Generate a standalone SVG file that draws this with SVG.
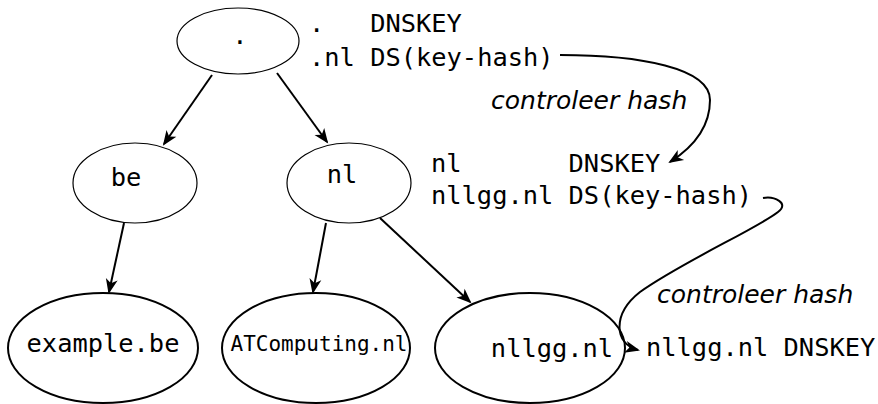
<svg xmlns="http://www.w3.org/2000/svg" width="878" height="404" viewBox="0 0 878 404">
<defs>
<style>
.n{fill:none;stroke:#000}
.thin{stroke-width:1.2}
.thick{stroke-width:2}
.m{font-family:"DejaVu Sans Mono","Liberation Mono",monospace;font-size:25.4px;fill:#000}
.i{font-family:"DejaVu Sans","Liberation Sans",sans-serif;font-style:italic;font-size:25px;fill:#000}
</style>
<marker id="ah" markerUnits="userSpaceOnUse" markerWidth="20" markerHeight="14" viewBox="-14 -7 17 14" refX="0" refY="0" orient="auto">
<path d="M2,0 L-13,-6 L-9,0 L-13,6 Z" fill="#000"/>
</marker>
</defs>
<rect width="878" height="404" fill="#fff"/>
<g id="root">
<ellipse class="n thin" cx="238" cy="41" rx="61" ry="33"/>
<text class="m" x="240" y="44" text-anchor="middle">.</text>
</g>
<g id="be">
<ellipse class="n thin" cx="135" cy="183" rx="62" ry="40"/>
<text class="m" x="126" y="186" text-anchor="middle">be</text>
</g>
<g id="nl">
<ellipse class="n thin" cx="349" cy="183" rx="62" ry="40"/>
<text class="m" x="342" y="183" text-anchor="middle">nl</text>
</g>
<g id="examplebe">
<ellipse class="n thick" cx="103" cy="348" rx="95" ry="55"/>
<text class="m" x="103" y="352" text-anchor="middle">example.be</text>
</g>
<g id="atcomputing">
<ellipse class="n thick" cx="316" cy="348" rx="94" ry="55"/>
<text class="m" x="319" y="351" text-anchor="middle" style="font-size:21px">ATComputing.nl</text>
</g>
<g id="nllgg">
<ellipse class="n thick" cx="530" cy="348" rx="95" ry="55"/>
<text class="m" x="552" y="357" text-anchor="middle">nllgg.nl</text>
</g>
<g id="records">
<text class="m" x="309" y="32" xml:space="preserve">.   DNSKEY</text>
<text class="m" x="309" y="66" xml:space="preserve">.nl DS(key-hash)</text>
<text class="m" x="431" y="172" xml:space="preserve">nl       DNSKEY</text>
<text class="m" x="431" y="204" xml:space="preserve">nllgg.nl DS(key-hash)</text>
<text class="m" x="646" y="356" xml:space="preserve">nllgg.nl DNSKEY</text>
<text class="i" x="491" y="109">controleer hash</text>
<text class="i" x="657" y="303">controleer hash</text>
</g>
<g id="connectors" fill="none" stroke="#000" stroke-width="2">
<line x1="212" y1="75" x2="164" y2="144" marker-end="url(#ah)"/>
<line x1="277" y1="73" x2="327" y2="142" marker-end="url(#ah)"/>
<line x1="124" y1="223" x2="109" y2="292" marker-end="url(#ah)"/>
<line x1="326" y1="223" x2="313" y2="292" marker-end="url(#ah)"/>
<line x1="380" y1="218" x2="470" y2="302" marker-end="url(#ah)"/>
<path d="M560,55 C640,55 710,68 710,100 C710,128 692,148 670,162" marker-end="url(#ah)"/>
<path d="M763,198 C774,196 790,203 778,212 C758,228 682,262 640,292 C612,314 614,344 638,350" marker-end="url(#ah)"/>
</g>
</svg>
